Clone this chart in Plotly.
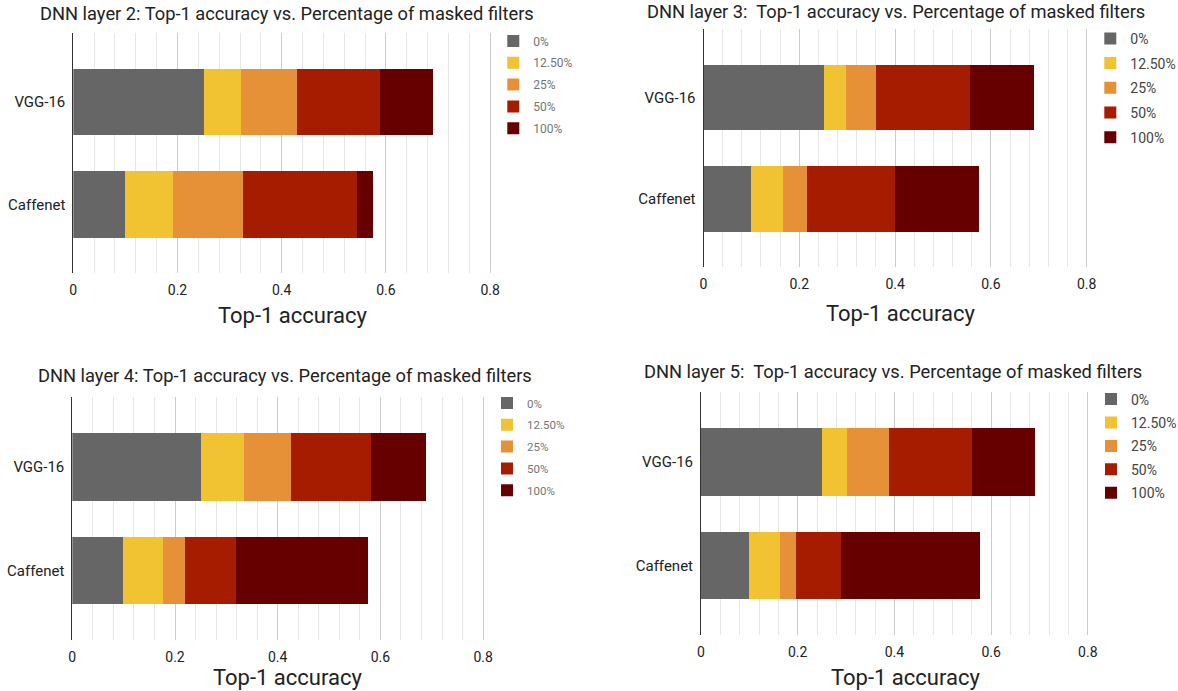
import plotly.graph_objects as go

W, H = 1178, 691

models = ["VGG-16", "Caffenet"]
masks = ["0%", "12.50%", "25%", "50%", "100%"]
colors = ["#666666", "#f1c232", "#e69138", "#a61c00", "#660000"]
x_ticks = [0, 0.2, 0.4, 0.6, 0.8]
x_tick_text = ["0", "0.2", "0.4", "0.6", "0.8"]

# stacked segment values per mask level: [VGG-16, Caffenet]
layer2_vgg = [0.250, 0.072, 0.107, 0.159, 0.102]
layer2_caffe = [0.100, 0.091, 0.135, 0.219, 0.031]
layer3_vgg = [0.251, 0.047, 0.063, 0.196, 0.132]
layer3_caffe = [0.100, 0.067, 0.049, 0.184, 0.176]
layer4_vgg = [0.251, 0.083, 0.091, 0.156, 0.107]
layer4_caffe = [0.099, 0.078, 0.043, 0.099, 0.256]
layer5_vgg = [0.251, 0.051, 0.086, 0.172, 0.130]
layer5_caffe = [0.100, 0.063, 0.033, 0.094, 0.287]

titles = [
    "DNN layer 2: Top-1 accuracy vs. Percentage of masked filters",
    "DNN layer 3:\u00a0 Top-1 accuracy vs. Percentage of masked filters",
    "DNN layer 4: Top-1 accuracy vs. Percentage of masked filters",
    "DNN layer 5:\u00a0 Top-1 accuracy vs. Percentage of masked filters",
]
axis_title = "Top-1 accuracy"

# layout geometry in window pixels
panels = [
    dict(vgg=layer2_vgg, caffe=layer2_caffe, x0=73.3, scale=521.0, top=33, bottom=273,
         title=(287, 13.6), xt=(292.5, 315),
         leg=(532.3, 41.0), leg_font=12, leg_color="#757575", gap=2.8),
    dict(vgg=layer3_vgg, caffe=layer3_caffe, x0=703.5, scale=479.0, top=29, bottom=267,
         title=(896, 12), xt=(900, 313),
         leg=(1129.3, 37.3), leg_font=14, leg_color="#444444", gap=3.5),
    dict(vgg=layer4_vgg, caffe=layer4_caffe, x0=72.3, scale=513.5, top=397, bottom=640,
         title=(285, 375), xt=(287, 677),
         leg=(526.0, 403.0), leg_font=11.5, leg_color="#757575", gap=2.8),
    dict(vgg=layer5_vgg, caffe=layer5_caffe, x0=701.0, scale=483.5, top=392, bottom=635,
         title=(893, 372), xt=(905, 677),
         leg=(1130.0, 398.0), leg_font=14, leg_color="#444444", gap=2.2),
]


def px(x):
    return x / W


def py(y):
    return 1 - y / H


XMAX = 0.81
fig = go.Figure()
layout = dict(
    width=W, height=H, margin=dict(l=0, r=0, t=0, b=0, autoexpand=False),
    paper_bgcolor="white", plot_bgcolor="white",
    barmode="stack", bargap=0.35,
    font=dict(family="Roboto", color="#222222"),
    annotations=[],
)

for i, p in enumerate(panels):
    n = "" if i == 0 else str(i + 1)
    xa, ya = "x" + n, "y" + n
    leg = "legend" + n
    for k in range(len(masks)):
        fig.add_trace(go.Bar(
            y=models, x=[p["vgg"][k], p["caffe"][k]], orientation="h",
            name=masks[k], marker=dict(color=colors[k], line=dict(width=0)),
            xaxis=xa, yaxis=ya, legend=leg, legendgroup=f"g{i}_{k}",
            hoverinfo="x+y+name",
        ))
    x1 = p["x0"] + XMAX * p["scale"]
    layout["xaxis" + n] = dict(
        domain=[px(p["x0"]), px(x1)], range=[0, XMAX], anchor=ya, automargin=False,
        tickvals=x_ticks, ticktext=x_tick_text, showgrid=True, gridcolor="#cccccc",
        gridwidth=1, zeroline=False, showline=False, ticks="",
        minor=dict(dtick=0.04, tick0=0, showgrid=True, gridcolor="#e6e6e6", gridwidth=1, ticks=""),
        tickfont=dict(size=14, color="#222222", family="Roboto"),
        ticklabelstandoff=7, fixedrange=True,
    )
    layout["yaxis" + n] = dict(
        domain=[py(p["bottom"]), py(p["top"])], anchor=xa, automargin=False,
        type="category", categoryorder="array", categoryarray=["Caffenet", "VGG-16"],
        range=[-0.67, 1.675], showgrid=False, zeroline=False,
        showline=True, linecolor="#333333", linewidth=1, ticks="",
        tickfont=dict(size=15, color="#222222", family="Roboto"),
        ticklabelstandoff=4, fixedrange=True,
    )
    lx, ly = p["leg"]
    layout[leg] = dict(
        x=px(lx - 39), y=py(ly - 14.5), xanchor="left", yanchor="top",
        bgcolor="rgba(0,0,0,0)", borderwidth=0, traceorder="grouped",
        tracegroupgap=p["gap"], itemclick=False, itemdoubleclick=False,
        font=dict(size=p["leg_font"], color=p["leg_color"], family="Roboto"),
    )
    tx, ty = p["title"]
    layout["annotations"].append(dict(
        text=titles[i], x=px(tx), y=py(ty), xref="paper", yref="paper",
        xanchor="center", yanchor="middle", showarrow=False,
        font=dict(size=18.3, color="#222222", family="Roboto"),
    ))
    ax, ay = p["xt"]
    layout["annotations"].append(dict(
        text=axis_title, x=px(ax), y=py(ay), xref="paper", yref="paper",
        xanchor="center", yanchor="middle", showarrow=False,
        font=dict(size=22, color="#222222", family="Roboto"),
    ))

fig.update_layout(**layout)
fig.write_html(
    "out.html",
    config={"displayModeBar": False},
    post_script="document.body.style.margin='0';document.body.style.overflow='hidden';",
)
